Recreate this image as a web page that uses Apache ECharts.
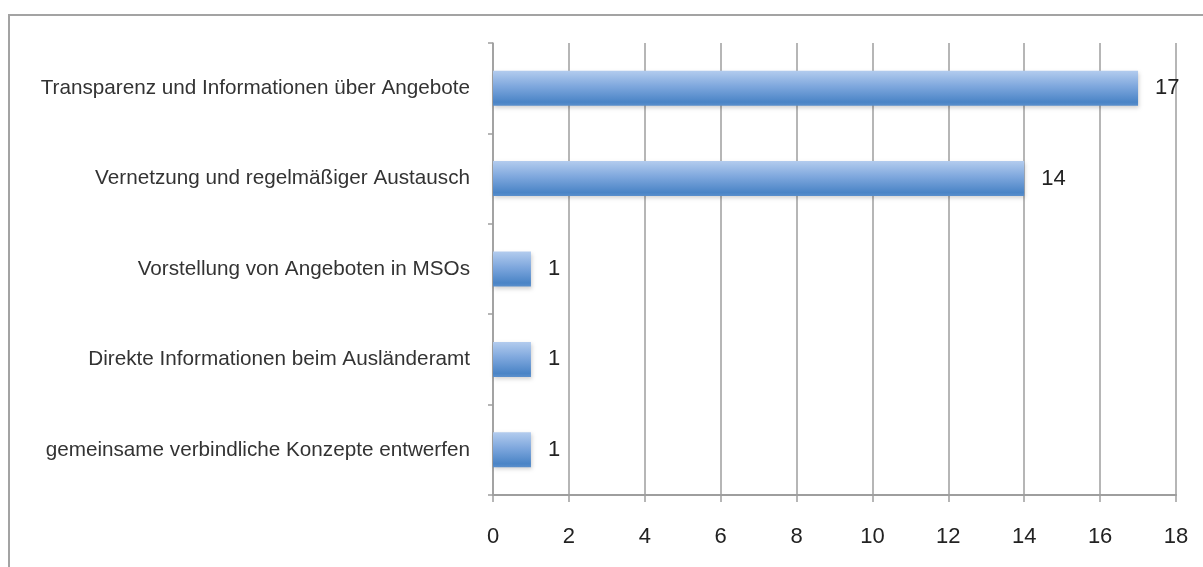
<!DOCTYPE html>
<html>
<head>
<meta charset="utf-8">
<script src="https://cdn.jsdelivr.net/npm/echarts@6/dist/echarts.min.js"></script>
<style>
  html, body { margin: 0; padding: 0; background: #fff; }
  #frame {
    position: absolute; left: 8px; top: 14px; width: 1300px; height: 700px;
    border-left: 2px solid #a3a3a3; border-top: 2px solid #a3a3a3;
    box-sizing: border-box;
  }
  #chart { position: absolute; left: 0; top: 0; width: 1203px; height: 567px; }
</style>
</head>
<body>
<div id="frame"></div>
<div id="chart"></div>
<script>
// Categories, top to bottom
const categories = [
  'Transparenz und Informationen über Angebote',
  'Vernetzung und regelmäßiger Austausch',
  'Vorstellung von Angeboten in MSOs',
  'Direkte Informationen beim Ausländeramt',
  'gemeinsame verbindliche Konzepte entwerfen'
];
// Number of mentions per category
const counts = [17, 14, 1, 1, 1];
// Value axis range
const axisMin = 0;
const axisMax = 18;
const axisStep = 2;

const chart = echarts.init(document.getElementById('chart'), null, { renderer: 'canvas' });

const gridColor = '#9e9e9e';

chart.setOption({
  backgroundColor: 'transparent',
  animation: false,
  grid: { left: 493, right: 27, top: 43, bottom: 72, containLabel: false },
  xAxis: {
    type: 'value',
    min: axisMin,
    max: axisMax,
    interval: axisStep,
    axisLine: { show: true, lineStyle: { color: gridColor, width: 2 } },
    axisTick: { show: true, length: 7, lineStyle: { color: gridColor, width: 1.5 } },
    splitLine: { show: true, lineStyle: { color: gridColor, width: 1.5 } },
    axisLabel: {
      color: '#222', fontSize: 22, margin: 31,
      fontFamily: 'Liberation Sans, Arial, sans-serif'
    }
  },
  yAxis: {
    type: 'category',
    data: categories,
    inverse: true,
    axisLine: { show: true, lineStyle: { color: gridColor, width: 1.5 } },
    axisTick: { show: true, length: 5, lineStyle: { color: gridColor, width: 1.5 } },
    axisLabel: {
      color: '#333', fontSize: 20.7, margin: 23,
      fontFamily: 'Liberation Sans, Arial, sans-serif'
    },
    splitLine: { show: false }
  },
  series: [{
    type: 'bar',
    data: counts,
    barWidth: 35,
    itemStyle: {
      color: new echarts.graphic.LinearGradient(0, 0, 0, 1, [
        { offset: 0, color: '#b3ccee' },
        { offset: 0.45, color: '#7ea7dd' },
        { offset: 0.9, color: '#4a84c6' },
        { offset: 1, color: '#5a8fcc' }
      ]),
      shadowColor: 'rgba(0,0,0,0.18)',
      shadowBlur: 4,
      shadowOffsetX: 1,
      shadowOffsetY: 2
    },
    label: {
      show: true,
      position: 'right',
      distance: 17,
      color: '#222',
      fontSize: 22,
      fontFamily: 'Liberation Sans, Arial, sans-serif'
    }
  }]
});
</script>
</body>
</html>
